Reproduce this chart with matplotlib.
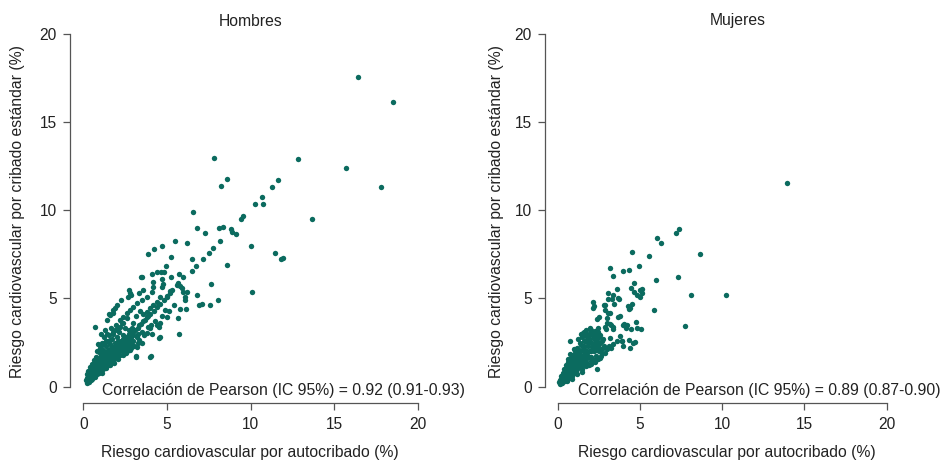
import matplotlib
matplotlib.use("Agg")
import matplotlib.pyplot as plt

plt.rcParams['font.family'] = ['Liberation Sans', 'DejaVu Sans']

# ---------------- data ----------------
ticks = [0, 5, 10, 15, 20]
titles = ["Hombres", "Mujeres"]
xlabel = "Riesgo cardiovascular por autocribado (%)"
ylabel = "Riesgo cardiovascular por cribado estándar (%)"
corr_text = ["Correlación de Pearson (IC 95%) = 0.92 (0.91-0.93)",
             "Correlación de Pearson (IC 95%) = 0.89 (0.87-0.90)"]

men_outliers = [
    (16.45, 17.55), (18.5, 16.1), (7.84, 12.93), (12.86, 12.9), (15.71, 12.4), (17.79, 11.28),
    (8.57, 11.76), (8.22, 11.36), (11.66, 11.7), (11.27, 11.31), (10.71, 10.72), (10.29, 10.33),
    (10.73, 10.33), (6.58, 9.91), (13.66, 9.49), (9.57, 9.67), (9.43, 9.5), (6.8, 8.99),
    (7.28, 8.7), (8.12, 8.97), (8.34, 9.03), (8.81, 8.91), (8.87, 8.74), (9.11, 8.63),
    (8.16, 8.23), (10.01, 7.98), (11.45, 7.59), (11.8, 7.23), (11.92, 7.3), (10.09, 5.36),
    (8.57, 6.89), (5.5, 8.27), (6.22, 8.15), (4.71, 7.97), (4.25, 7.8), (3.85, 7.53),
    (7.74, 7.84), (7.54, 7.59),
]
men_mid = [
    (6.5, 7.21), (6.74, 6.83), (6.52, 6.53), (7.14, 7.23), (5.23, 7.36), (4.93, 6.83),
    (4.39, 6.51), (4.65, 6.51), (4.85, 6.5), (3.45, 6.19), (4.09, 6.36), (5.24, 6.23),
    (5.74, 6.36), (5.98, 6.19), (4.69, 6.08), (4.75, 5.8), (4.71, 5.66), (4.19, 5.95),
    (4.15, 5.66), (4.09, 5.38), (5.68, 5.89), (5.78, 5.7), (5.88, 5.57), (5.98, 5.38),
    (5.62, 5.76), (7.64, 5.83), (6.78, 5.19), (6.94, 4.63), (7.08, 4.68), (7.6, 4.63),
    (8.06, 4.89), (3.55, 5.48), (3.35, 5.32), (2.75, 5.48), (2.83, 5.19), (6.18, 5.38),
    (6.08, 5.1), (6.1, 4.91), (5.78, 4.38), (6.14, 4.38), (5.68, 3.87), (4.99, 3.93),
    (4.91, 4.32), (5.7, 3.0), (4.51, 2.74), (4.05, 1.72), (3.17, 1.74), (0.7, 3.36),
    (3.49, 6.23), (1.51, 4.1), (1.8, 4.2), (1.9, 4.44), (2.79, 5.29),
]
men_band = [
    (5.19, 5.44), (4.99, 5.14), (4.59, 5.06), (4.39, 4.81), (4.19, 4.63), (3.99, 4.44),
    (3.79, 4.25), (3.59, 4.1), (2.65, 5.1), (2.24, 4.91), (2.0, 4.63), (1.79, 4.34),
    (1.6, 4.06), (1.4, 3.78), (3.79, 5.1), (3.49, 4.91), (3.19, 4.72), (2.99, 4.53),
    (2.79, 4.34), (2.6, 4.16), (2.39, 3.96), (2.19, 3.78),
    (2.8, 2.17), (3.19, 2.26), (3.5, 2.45), (3.79, 3.02), (4.0, 3.3), (4.4, 3.5),
    (4.6, 3.6), (3.15, 1.7), (3.99, 1.7), (2.83, 2.17), (3.33, 2.64), (4.59, 2.83),
]
men_core = [
    (0.15, 0.35), (0.2, 0.5), (0.25, 0.3), (0.25, 0.7), (0.3, 0.45), (0.3, 0.9), (0.35, 0.6),
    (0.35, 0.35), (0.4, 0.8), (0.4, 1.1), (0.45, 0.5), (0.45, 0.95), (0.5, 0.65), (0.5, 1.3),
    (0.55, 0.85), (0.55, 0.45), (0.6, 1.0), (0.6, 0.6), (0.65, 1.5), (0.65, 0.75), (0.7, 1.2),
    (0.7, 0.55), (0.75, 0.9), (0.75, 1.7), (0.8, 1.1), (0.8, 0.7), (0.85, 1.4), (0.85, 2.0),
    (0.9, 0.95), (0.9, 1.25), (0.95, 1.6), (0.95, 0.8), (1.0, 1.1), (1.0, 2.2), (1.0, 1.45),
    (1.05, 0.9), (1.05, 1.8), (1.1, 1.25), (1.1, 2.5), (1.15, 1.55), (1.15, 1.0), (1.2, 2.0),
    (1.2, 1.3), (1.25, 1.75), (1.25, 2.8), (1.3, 1.15), (1.3, 1.5), (1.35, 2.3), (1.35, 1.9),
    (1.4, 1.4), (1.4, 3.0), (1.45, 1.7), (1.45, 1.2), (1.5, 2.1), (1.5, 2.6), (1.5, 1.55),
    (1.55, 1.85), (1.6, 1.35), (1.6, 2.4), (1.65, 1.65), (1.65, 3.3), (1.7, 2.0), (1.7, 2.7),
    (1.75, 1.5), (1.75, 1.8), (1.8, 2.25), (1.8, 3.0), (1.85, 1.9), (1.85, 1.55), (1.9, 2.5),
    (1.9, 2.0), (1.95, 3.5), (1.95, 1.75), (2.0, 2.1), (2.0, 2.8), (2.0, 1.6), (2.1, 2.3),
    (2.1, 1.9), (2.15, 3.1), (2.2, 2.4), (2.2, 1.8), (2.25, 2.6), (2.3, 2.2), (2.3, 3.6),
    (2.35, 2.5), (2.4, 2.0), (2.4, 2.9), (2.45, 2.45), (2.5, 3.3), (2.5, 2.15), (2.55, 2.6),
    (2.6, 2.0), (2.6, 3.9), (2.65, 2.75), (2.7, 2.35), (2.75, 3.2), (2.8, 2.85), (2.85, 2.4),
    (2.9, 3.0), (2.95, 3.6), (3.0, 3.1), (3.0, 2.6), (3.1, 3.2), (3.15, 4.0), (3.2, 2.8),
    (3.25, 3.35), (3.3, 3.0), (3.35, 3.5), (3.4, 4.3), (3.45, 3.55), (3.5, 3.1), (3.6, 3.7),
    (3.65, 2.9), (3.7, 3.8), (3.8, 3.95), (3.85, 3.4), (3.9, 4.0), (4.0, 4.1), (4.05, 3.5),
    (4.1, 3.0), (4.2, 4.3), (4.3, 3.7), (4.4, 4.5), (4.5, 3.4), (4.6, 4.7), (4.7, 4.0),
    (4.8, 4.9), (5.0, 5.1), (5.1, 4.3), (5.2, 5.3), (5.3, 5.45), (5.4, 4.6),
]
men_core2 = [
    (0.2, 0.2), (0.22, 0.42), (0.28, 0.58), (0.32, 0.25), (0.38, 0.5), (0.42, 0.7), (0.48, 0.4),
    (0.52, 0.95), (0.58, 0.7), (0.62, 0.85), (0.68, 1.05), (0.72, 0.7), (0.78, 1.3), (0.82, 0.85),
    (0.88, 1.15), (0.92, 1.05), (0.98, 1.3), (1.02, 0.95), (1.08, 1.55), (1.12, 1.4), (1.18, 1.15),
    (1.22, 1.65), (1.28, 1.35), (1.32, 1.7), (1.38, 1.25), (1.42, 1.85), (1.48, 1.4), (1.52, 1.75),
    (1.58, 2.05), (1.62, 1.55), (1.68, 2.2), (1.72, 1.7), (1.78, 2.0), (1.82, 1.7), (1.88, 2.2),
    (1.92, 1.85), (1.98, 2.35), (2.02, 1.95), (2.08, 2.6), (2.12, 2.1), (2.18, 2.25), (2.22, 2.05),
    (2.28, 2.45), (2.32, 2.3), (2.38, 2.7), (2.42, 2.25), (2.48, 2.6), (2.52, 2.4), (2.58, 2.8),
    (2.62, 2.3), (2.68, 2.55), (2.72, 3.0), (2.78, 2.6), (2.82, 2.5), (2.88, 2.75), (2.92, 3.3),
    (2.98, 2.9), (0.55, 1.1), (0.65, 1.25), (0.72, 1.45), (0.85, 1.65), (0.95, 1.95), (1.05, 2.3),
    (1.15, 2.1), (1.25, 2.45), (1.38, 2.6), (1.55, 2.9), (1.6, 2.65), (1.75, 3.1), (1.9, 3.2),
    (2.05, 3.3), (2.2, 3.4), (2.4, 3.6), (1.12, 0.75), (1.35, 1.05), (1.62, 1.2), (1.85, 1.35),
    (2.1, 1.55), (2.35, 1.8), (2.55, 1.9), (2.8, 2.05), (3.05, 2.3), (3.3, 2.5), (1.05, 3.0),
    (1.3, 3.2), (0.9, 2.4),
]

women_outliers = [
    (13.92, 11.54), (7.36, 8.95), (7.21, 8.72), (6.06, 8.44), (6.26, 8.12), (8.63, 7.53),
    (4.52, 7.61), (5.53, 7.38), (3.18, 6.74), (3.38, 6.26), (3.95, 6.57), (4.32, 6.6),
    (4.94, 6.85), (7.34, 6.21), (5.96, 6.02), (4.62, 5.85), (8.13, 5.22), (10.23, 5.17),
    (7.74, 3.41), (5.86, 4.33), (5.13, 5.53), (5.15, 5.3), (4.82, 5.18), (4.48, 5.56),
    (5.0, 5.47), (5.0, 5.1), (4.66, 5.36),
]
women_mid = [
    (4.8, 3.35), (5.05, 3.25), (4.68, 2.54), (4.4, 2.21), (4.38, 4.43), (4.25, 4.58),
    (4.5, 4.67), (3.61, 5.53), (3.06, 5.28), (3.38, 5.2), (3.69, 5.0), (3.42, 4.67),
    (2.17, 4.77), (2.21, 4.58), (2.84, 4.62), (2.9, 4.33), (3.18, 4.2), (2.49, 3.95),
    (2.98, 3.63), (3.18, 3.54), (3.38, 3.39), (3.81, 4.01), (4.01, 3.54), (4.19, 3.48),
    (3.79, 2.88), (3.89, 2.59), (3.1, 2.31), (3.24, 2.21), (2.98, 2.12), (3.59, 2.59),
    (2.47, 2.97), (2.37, 2.88), (2.41, 0.98), (0.75, 2.59), (3.3, 4.94), (3.71, 4.94),
    (3.08, 4.98), (2.13, 4.47), (2.88, 4.6), (3.08, 4.19), (2.98, 3.9), (4.32, 4.38),
    (2.41, 3.85), (2.47, 3.33), (2.88, 3.39), (3.22, 3.47), (3.38, 3.24), (2.94, 3.24),
    (3.69, 3.96), (3.99, 3.47), (4.15, 3.31), (4.44, 3.24), (4.76, 3.69), (1.96, 3.33),
    (2.17, 3.05), (2.37, 2.77), (2.57, 2.95), (2.77, 2.71), (3.18, 2.77), (3.89, 2.57),
    (4.35, 2.67), (4.6, 2.48), (3.99, 2.29), (3.38, 2.39),
]
women_core = [
    (0.1, 0.25), (0.15, 0.4), (0.2, 0.3), (0.2, 0.6), (0.25, 0.2), (0.3, 0.45), (0.3, 0.8),
    (0.35, 0.35), (0.4, 0.6), (0.4, 1.0), (0.45, 0.3), (0.5, 0.5), (0.5, 0.8), (0.5, 1.2),
    (0.55, 0.4), (0.6, 0.65), (0.6, 1.0), (0.65, 1.4), (0.7, 0.5), (0.7, 0.8), (0.75, 1.1),
    (0.8, 0.65), (0.8, 1.6), (0.85, 0.9), (0.9, 1.3), (0.9, 0.6), (0.95, 1.8), (1.0, 1.0),
    (1.0, 0.75), (1.0, 1.45), (1.05, 2.0), (1.1, 1.2), (1.1, 0.9), (1.15, 1.7), (1.2, 1.0),
    (1.2, 2.2), (1.25, 1.4), (1.3, 1.15), (1.3, 1.9), (1.35, 2.5), (1.4, 1.3), (1.4, 1.6),
    (1.45, 2.1), (1.5, 1.0), (1.5, 2.8), (1.55, 1.5), (1.6, 1.2), (1.6, 2.3), (1.65, 1.8),
    (1.7, 2.6), (1.7, 1.4), (1.75, 2.0), (1.8, 3.0), (1.8, 1.6), (1.85, 2.3), (1.9, 1.25),
    (1.9, 2.7), (1.95, 1.7), (2.0, 2.0), (2.0, 3.1), (2.05, 1.45), (2.1, 2.5), (2.15, 2.9),
    (2.2, 1.5), (2.25, 2.2), (2.3, 2.6), (2.35, 1.75), (2.4, 2.3), (2.5, 2.0), (2.55, 1.6),
    (2.6, 2.5), (2.7, 1.9), (2.8, 2.3), (1.4, 3.0), (1.6, 3.1), (2.3, 3.0),
]
women_core2 = [
    (0.12, 0.15), (0.18, 0.45), (0.22, 0.2), (0.28, 0.62), (0.32, 0.3), (0.38, 0.75), (0.42, 0.45),
    (0.48, 0.95), (0.52, 0.65), (0.58, 0.3), (0.62, 0.85), (0.68, 1.2), (0.72, 0.65), (0.78, 0.95),
    (0.82, 1.35), (0.88, 0.75), (0.92, 1.55), (0.98, 1.2), (1.02, 1.75), (1.08, 1.05), (1.12, 1.5),
    (1.18, 1.9), (1.22, 1.25), (1.28, 1.65), (1.32, 2.1), (1.38, 1.45), (1.42, 2.35), (1.48, 1.75),
    (1.52, 2.0), (1.58, 2.6), (1.62, 1.65), (1.68, 2.1), (1.72, 2.85), (1.78, 1.8), (1.82, 2.45),
    (1.88, 2.0), (1.92, 2.9), (1.98, 2.55), (2.02, 1.7), (2.08, 2.25), (2.12, 2.75), (2.18, 2.0),
    (2.22, 2.95), (2.28, 2.4), (2.32, 2.75), (2.38, 2.05), (2.42, 2.6), (2.48, 2.3), (2.52, 2.8),
    (2.62, 2.15), (2.68, 2.6), (2.75, 2.2), (1.25, 2.7), (1.45, 2.95), (1.55, 3.05), (1.7, 3.2),
    (2.05, 3.2), (2.25, 3.15), (2.45, 3.1), (0.6, 1.55), (0.75, 1.85), (1.0, 2.15), (1.5, 0.85),
    (1.75, 1.15), (2.0, 1.3), (2.25, 1.4), (2.45, 1.55), (2.65, 1.75), (2.85, 1.9), (0.9, 0.45),
    (1.2, 0.7),
]

men = men_outliers + men_mid + men_band + men_core + men_core2
women = women_outliers + women_mid + women_core + women_core2

# ---------------- drawing ----------------
color = "#0b6b5f"
W, H = 942, 462
fig = plt.figure(figsize=(W / 100, H / 100), dpi=100)

ax1 = fig.add_axes([69.9 / W, 1 - 400.8 / H, (431.1 - 69.9) / W, (400.8 - 19.4) / H])
ax2 = fig.add_axes([544.5 / W, 1 - 400.8 / H, (899.9 - 544.5) / W, (400.8 - 19.4) / H])

for ax, pts in ((ax1, men), (ax2, women)):
    xs = [p[0] for p in pts]
    ys = [p[1] for p in pts]
    ax.scatter(xs, ys, s=15, color=color, linewidths=0, zorder=3)
    ax.set_xlim(-0.8, 20.8)
    ax.set_ylim(-0.8, 20.8)
    ax.set_xticks(ticks)
    ax.set_yticks(ticks)
    ax.set_xticklabels([str(t) for t in ticks])
    ax.set_yticklabels([str(t) for t in ticks])
    for s in ("top", "right"):
        ax.spines[s].set_visible(False)
    for s in ("left", "bottom"):
        ax.spines[s].set_bounds(0, 20)
        ax.spines[s].set_color("#555555")
        ax.spines[s].set_linewidth(0.9)
    ax.spines["bottom"].set_position(("outward", 1.5))
    ax.tick_params(axis="both", direction="out", length=5, width=0.9, color="#555555",
                   labelsize=11.2, labelcolor="#222222")
    ax.tick_params(axis="x", pad=5.5)
    ax.tick_params(axis="y", pad=4.3)
    ax.patch.set_alpha(0)

txt = dict(fontsize=11.3, color="#222222")
fig.text(250.5 / W, 1 - 21 / H, titles[0], ha="center", va="center", **txt)
fig.text(737.5 / W, 1 - 21 / H, titles[1], ha="center", va="center", **txt)

fig.text(250 / W, 1 - 453 / H, xlabel, ha="center", va="center", **txt)
fig.text(727 / W, 1 - 453 / H, xlabel, ha="center", va="center", **txt)

fig.text(18 / W, 1 - 212 / H, ylabel, ha="center", va="center", rotation=90, **txt)
fig.text(497 / W, 1 - 212 / H, ylabel, ha="center", va="center", rotation=90, **txt)

fig.text(102 / W, 1 - 390 / H, corr_text[0], ha="left", va="center", **txt)
fig.text(578 / W, 1 - 390 / H, corr_text[1], ha="left", va="center", **txt)

fig.savefig("out.png", dpi=100)
